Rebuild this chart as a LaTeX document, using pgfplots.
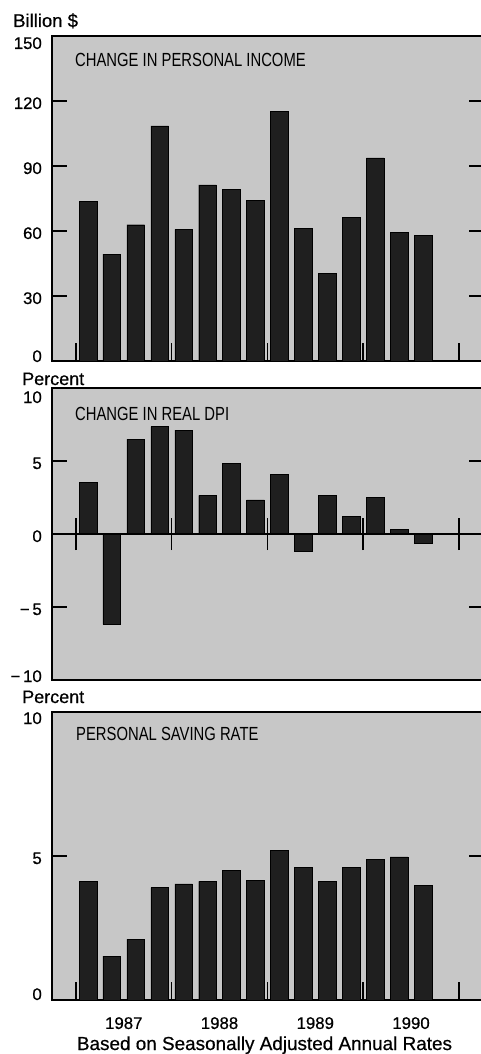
\documentclass[border=0pt]{standalone}
\usepackage{fontspec}
\setmainfont[FakeBold=0.6]{Liberation Sans}
\newfontfamily\condfont[FakeStretch=0.78]{Liberation Sans}
\usepackage{pgfplots}
\pgfplotsset{compat=1.18}

\pgfplotsset{panel/.style={
  scale only axis, width=432pt, xmin=-1, xmax=17.05, anchor=north west,
  axis background/.style={fill=black!22},
  axis line style={line width=1.4pt},
  ybar, bar width=17.7pt,
  tick align=inside, major tick length=15pt,
  tick style={line width=1.3pt, black},
  ytick pos=both,
  yticklabel style={font=\fontsize{16.8}{16.8}\selectfont, inner sep=0pt, xshift=-10pt, anchor=base east, yshift=-8pt},
  xtick=\empty,
}}
\newcommand{\yearticks}{%
  \pgfplotsinvokeforeach{0,4,8,12,16}{\draw[line width=1.3pt] (axis cs:##1,0) -- ([yshift=18pt]axis cs:##1,0);}}

\begin{document}
\begin{tikzpicture}
% panel 1
\begin{axis}[panel, at={(52pt,-36pt)}, height=325pt, ymin=0, ymax=150,
  ytick={0,30,60,90,120,150},
  yticklabels={\raisebox{7pt}{0},30,60,90,120,\raisebox{-5pt}{150}}]
\addplot[fill=black!88, draw=black] coordinates {
(0.5,73.6) (1.5,49.3) (2.5,62.9) (3.5,108.5) (4.5,60.8) (5.5,81.3) (6.5,79.1)
(7.5,74.1) (8.5,115.1) (9.5,61.1) (10.5,40.4) (11.5,66.3) (12.5,93.7) (13.5,59.3) (14.5,57.9)};
\yearticks
\end{axis}
% panel 2
\begin{axis}[panel, at={(52pt,-388pt)}, height=292pt, ymin=-10, ymax=10,
  ytick={-10,-5,0,5,10},
  yticklabels={\raisebox{6pt}{−\,10},−\,5,0,5,\raisebox{-7pt}{10}}]
\addplot[fill=black!88, draw=black] coordinates {
(0.5,3.54) (1.5,-6.19) (2.5,6.5) (3.5,7.35) (4.5,7.12) (5.5,2.65) (6.5,4.82)
(7.5,2.33) (8.5,4.09) (9.5,-1.16) (10.5,2.67) (11.5,1.19) (12.5,2.53) (13.5,0.34) (14.5,-0.64)};
\draw[line width=1.4pt] (axis cs:-1,0) -- (axis cs:17.05,0);
\pgfplotsinvokeforeach{0,4,8,12,16}{\draw[line width=1.3pt] (axis cs:#1,-1.1) -- (axis cs:#1,1.1);}
\end{axis}
% panel 3
\begin{axis}[panel, at={(52pt,-712pt)}, height=288pt, ymin=0, ymax=10,
  ytick={0,5,10},
  yticklabels={\raisebox{8pt}{0},5,\raisebox{-4pt}{10}},
  xtick={2,6,10,14}, xticklabels={1987,1988,1989,1990},
  xtick style={draw=none},
  xticklabel style={font=\fontsize{16.8}{16.8}\selectfont, inner sep=0pt, yshift=-17pt, anchor=north}]
\addplot[fill=black!88, draw=black] coordinates {
(0.5,4.12) (1.5,1.52) (2.5,2.11) (3.5,3.9) (4.5,4.03) (5.5,4.12) (6.5,4.49)
(7.5,4.15) (8.5,5.19) (9.5,4.61) (10.5,4.13) (11.5,4.61) (12.5,4.89) (13.5,4.97) (14.5,3.98)};
\yearticks
\end{axis}
% texts
\node[anchor=base west, inner sep=0, font=\fontsize{18.5}{18.5}\selectfont] at (13pt,-27pt) {Billion \$};
\node[anchor=base west, inner sep=0, font=\fontsize{18}{18}\selectfont] at (22pt,-385pt) {Percent};
\node[anchor=base west, inner sep=0, font=\fontsize{18}{18}\selectfont] at (22pt,-703pt) {Percent};
\node[anchor=base west, inner sep=0, font=\condfont\fontsize{19}{19}\selectfont] at (75pt,-67pt) {CHANGE IN PERSONAL INCOME};
\node[anchor=base west, inner sep=0, font=\condfont\fontsize{19}{19}\selectfont] at (75pt,-420pt) {CHANGE IN REAL DPI};
\node[anchor=base west, inner sep=0, font=\condfont\fontsize{19}{19}\selectfont] at (76pt,-740pt) {PERSONAL SAVING RATE};
\node[anchor=base, inner sep=0, font=\fontsize{18.9}{18.9}\selectfont] at (264.5pt,-1050pt) {Based on Seasonally Adjusted Annual Rates};
\pgfresetboundingbox
\path[use as bounding box] (0,0) rectangle (481pt,-1054pt);
\end{tikzpicture}
\end{document}
